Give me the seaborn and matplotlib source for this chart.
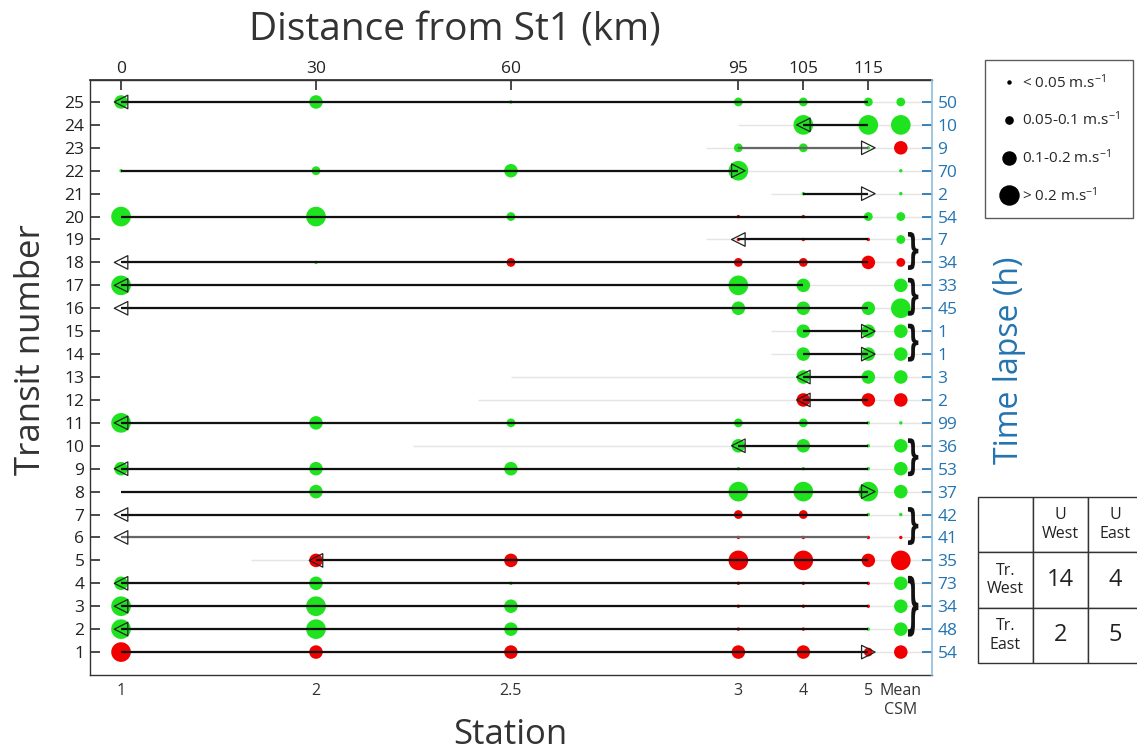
import numpy as np
import pandas as pd
import matplotlib
matplotlib.use('Agg')
import matplotlib.pyplot as plt
import seaborn as sns
from matplotlib.lines import Line2D
from matplotlib.textpath import TextPath
from matplotlib.patches import PathPatch
from matplotlib.font_manager import FontProperties
from matplotlib.transforms import Affine2D

sns.set_theme(style='white')
plt.rcParams['font.family'] = ['Open Sans', 'DejaVu Sans']
plt.rcParams['mathtext.default'] = 'regular'

# dane
transits = list(range(1, 26))
station_names = ['1', '2', '2.5', '3', '4', '5', 'Mean\nCSM']
station_km = [0, 30, 60, 95, 105, 115, 120]
km_ticks = [0, 30, 60, 95, 105, 115]
time_lapse = [54, 48, 34, 73, 35, 41, 42, 37, 53, 36, 99, 2, 3, 1, 1,
              45, 33, 34, 7, 54, 2, 70, 9, 10, 50]

# klasa predkosci na stacji: 0 brak, 1 <0.05, 2 0.05-0.1, 3 0.1-0.2, 4 >0.2
size_class = [
    [4, 3, 3, 3, 3, 2, 3],   # 1
    [4, 4, 3, 1, 1, 1, 3],   # 2
    [4, 4, 3, 1, 1, 1, 3],   # 3
    [3, 3, 1, 1, 1, 1, 3],   # 4
    [0, 3, 3, 4, 4, 3, 4],   # 5
    [0, 0, 0, 1, 1, 1, 1],   # 6
    [0, 0, 0, 2, 2, 1, 1],   # 7
    [0, 3, 0, 4, 4, 4, 3],   # 8
    [3, 3, 3, 1, 1, 1, 3],   # 9
    [0, 0, 0, 3, 3, 1, 3],   # 10
    [4, 3, 2, 2, 2, 1, 1],   # 11
    [0, 0, 0, 0, 3, 3, 3],   # 12
    [0, 0, 0, 0, 3, 3, 3],   # 13
    [0, 0, 0, 0, 3, 3, 3],   # 14
    [0, 0, 0, 0, 3, 3, 3],   # 15
    [0, 0, 0, 3, 3, 3, 4],   # 16
    [4, 0, 0, 4, 3, 0, 3],   # 17
    [0, 1, 2, 2, 2, 3, 2],   # 18
    [0, 0, 0, 1, 1, 1, 2],   # 19
    [4, 4, 2, 1, 1, 2, 2],   # 20
    [0, 0, 0, 0, 1, 0, 1],   # 21
    [1, 2, 3, 4, 0, 0, 1],   # 22
    [0, 0, 0, 2, 2, 1, 3],   # 23
    [0, 0, 0, 0, 4, 4, 4],   # 24
    [3, 3, 1, 2, 2, 2, 2],   # 25
]
# kolor: g = zgodny, r = przeciwny
colour_code = ['rrrrrrr', 'gggrrgg', 'gggrrrg', 'gggrrrg', 'rrrrrrr',
               'rrrrrrr', 'rrrrrgg', 'ggggggg', 'ggggggg', 'ggggggg',
               'ggggggg', 'rrrrrrr', 'ggggggg', 'ggggggg', 'ggggggg',
               'ggggggg', 'ggggggg', 'rgrrrrr', 'rrrrrrg', 'gggrrgg',
               'ggggggg', 'ggggggg', 'ggggggr', 'ggggggg', 'ggggggg']

line_start = [0, 0, 0, 0, 30, 0, 0, 0, 0, 95, 0, 105, 105, 105, 105,
              0, 0, 0, 95, 0, 105, 0, 95, 105, 0]
line_end = [115, 115, 115, 115, 115, 115, 115, 115, 115, 115, 115, 115, 115, 115, 115,
            115, 105, 115, 115, 115, 115, 95, 115, 115, 115]
arrow_at = [115, 0, 0, 0, 30, 0, 0, 115, 0, 95, 0, 105, 105, 115, 115,
            0, 0, 0, 95, np.nan, 115, 95, 115, 105, 0]
arrow_dir = ['>', '<', '<', '<', '<', '<', '<', '>', '<', '<', '<', '<', '<', '>', '>',
             '<', '<', '<', '<', '', '>', '>', '>', '<', '<']
faint_start = [0, 0, 0, 0, 20, 0, 0, 0, 0, 45, 0, 55, 60, 100, 100,
               0, 0, 0, 90, 0, 100, 0, 90, 95, 0]
grey_lines = [6, 23]

groups = [(2, 4), (6, 7), (9, 10), (14, 15), (16, 17), (18, 19)]

legend_labels = ['< 0.05 m.s$^{-1}$', '0.05-0.1 m.s$^{-1}$',
                 '0.1-0.2 m.s$^{-1}$', '> 0.2 m.s$^{-1}$']
table_cols = ['U\nWest', 'U\nEast']
table_rows = ['Tr.\nWest', 'Tr.\nEast']
table_counts = [[14, 4], [2, 5]]

# ramka z kropkami
recs = []
for i, t in enumerate(transits):
    for j, km in enumerate(station_km):
        if size_class[i][j]:
            recs.append((t, km, size_class[i][j], colour_code[i][j]))
dots = pd.DataFrame(recs, columns=['transit', 'km', 'cls', 'colour'])

blue = '#2374b0'
xmax = 124.8

fig = plt.figure(figsize=(11.37, 7.53), dpi=100)
ax = fig.add_axes([0.0792, 0.1036, 0.7405, 0.7902])

ax.hlines(transits, faint_start, xmax, color='#e4e4e4', lw=1, zorder=1)
line_cols = ['#666666' if t in grey_lines else '#111111' for t in transits]
ax.hlines(transits, line_start, line_end, colors=line_cols, lw=1.6, zorder=4)

sns.scatterplot(data=dots, x='km', y='transit', hue='colour', size='cls',
                sizes={1: 6, 2: 40, 3: 95, 4: 200},
                palette={'g': '#1fe31f', 'r': '#f20000'},
                linewidth=0, legend=False, ax=ax, zorder=3)

arr = pd.DataFrame({'transit': transits, 'km': arrow_at, 'dir': arrow_dir})
for d in ['<', '>']:
    sub = arr[arr['dir'] == d]
    ax.scatter(sub['km'], sub['transit'], marker=d, s=95, facecolors='none',
               edgecolors='#222222', linewidths=0.9, zorder=5)

ax.set_xlim(-4.77, xmax)
ax.set_ylim(0, 25.96)
ax.set_xticks(station_km, station_names)
ax.set_yticks(transits)
ax.set_xlabel('')
ax.set_ylabel('')
ax.tick_params(axis='x', direction='in', length=7, color='#333333',
               labelsize=11.5, labelcolor='#333333', pad=6)
ax.tick_params(axis='y', direction='in', length=7, color='#333333',
               labelsize=12.5, labelcolor='#222222', pad=4)
for s in ['left', 'bottom', 'top']:
    ax.spines[s].set_color('#333333')
    ax.spines[s].set_linewidth(1)
ax.spines['right'].set_visible(False)

top = ax.secondary_xaxis('top')
top.set_xticks(km_ticks)
top.tick_params(direction='in', length=7, color='#333333', labelsize=12.5,
                labelcolor='#222222', pad=2)
top.spines['top'].set_color('#333333')

ax2 = ax.twinx()
ax2.set_ylim(ax.get_ylim())
ax2.set_yticks(transits, [str(v) for v in time_lapse])
ax2.tick_params(axis='y', direction='in', length=7, color=blue,
                labelsize=12.5, labelcolor=blue, pad=4)
for s in ['left', 'bottom', 'top']:
    ax2.spines[s].set_visible(False)
ax2.spines['right'].set_color('#8fbddc')
ax2.spines['right'].set_linewidth(1.2)
ax2.grid(False)

# klamry grup
brace = TextPath((0, 0), '}', size=1,
                 prop=FontProperties(family='DejaVu Sans', weight='bold'))
bx = brace.get_extents()
for a, b in groups:
    h = (b - a) + 0.65
    tr = (Affine2D().translate(-bx.x0, -bx.y0)
          .scale(1.6 / bx.width, h / bx.height)
          .translate(121.1, (a + b) / 2 - h / 2))
    ax.add_patch(PathPatch(tr.transform_path(brace), facecolor='#111111',
                           edgecolor='none', transform=ax.transData,
                           clip_on=False, zorder=6))

# opisy osi
fig.text(0.027, 0.536, 'Transit number', rotation=90, fontsize=25,
         ha='center', va='center', color='#333333')
fig.text(0.888, 0.522, 'Time lapse (h)', rotation=90, fontsize=23,
         ha='center', va='center', color=blue)
fig.text(0.40, 0.96, 'Distance from St1 (km)', fontsize=28,
         ha='center', va='center', color='#333333')
fig.text(0.449, 0.024, 'Station', fontsize=25,
         ha='center', va='center', color='#333333')

# legenda predkosci
handles = [Line2D([], [], marker='o', ls='', color='black', markersize=m)
           for m in [2.2, 5.2, 9.4, 13.7]]
leg = fig.legend(handles, legend_labels, loc='upper left',
                 bbox_to_anchor=(985 / 1137, 1 - 60 / 753), borderaxespad=0,
                 frameon=True, fancybox=False, edgecolor='#333333',
                 fontsize=11, labelspacing=1.25, handletextpad=0.2,
                 borderpad=0.85, handlelength=1.4)
leg.get_frame().set_linewidth(1)

# tabela
tax = fig.add_axes([978 / 1137, 1 - 663 / 753, 165 / 1137, 166 / 753])
tax.axis('off')
cells = [[''] + table_cols] + [[r] + [str(v) for v in row]
                               for r, row in zip(table_rows, table_counts)]
tbl = tax.table(cellText=cells, cellLoc='center', bbox=[0, 0, 1, 1])
tbl.auto_set_font_size(False)
for (r, c), cell in tbl.get_celld().items():
    cell.set_edgecolor('#333333')
    cell.set_linewidth(1)
    txt = cell.get_text()
    if r > 0 and c > 0:
        txt.set_fontsize(17)
    else:
        txt.set_fontsize(11.5)
    txt.set_color('#222222')

fig.savefig('out.png', dpi=100)
